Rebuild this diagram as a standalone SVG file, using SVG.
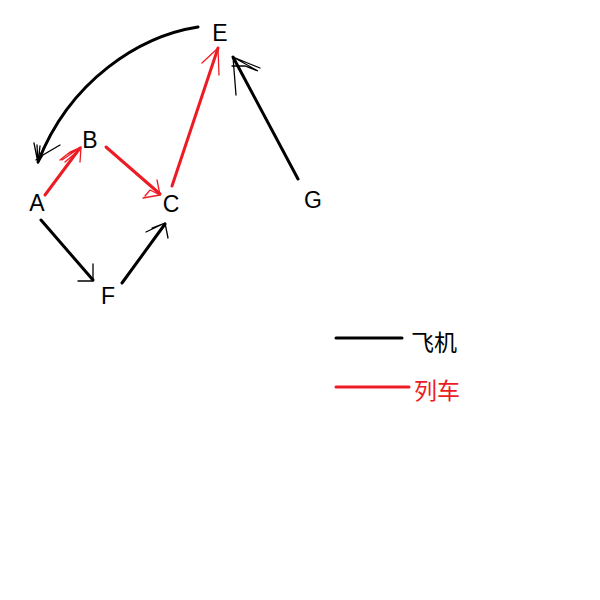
<svg xmlns="http://www.w3.org/2000/svg" width="600" height="600" viewBox="0 0 600 600">
<style>
.lbl{font-family:"Liberation Sans","Noto Sans",sans-serif;font-size:23px;fill:#000;text-anchor:middle}
.leg{font-family:"Noto Sans CJK SC","Liberation Sans",sans-serif;font-size:23px}
.k{stroke:#000;stroke-width:3;fill:none;stroke-linecap:round}
.r{stroke:#ed1c24;stroke-width:3;fill:none;stroke-linecap:round}
.kh{stroke:#000;stroke-width:1.3;fill:none;stroke-linecap:round}
.rh{stroke:#ed1c24;stroke-width:1.3;fill:none;stroke-linecap:round}
</style>
<rect width="600" height="600" fill="#fff"/>
<g id="connectors">
  <path class="k" d="M198,27 C140,36 70,80 38,162" stroke-width="3.5"/>
  <path class="kh" d="M38,163 L34,143 M38,163 L37,145 M38,163 L40,146 M38,163 L43,155 L60,145 M36,160 L40,153"/>
  <path class="r" d="M45,195 L80,148"/>
  <path class="rh" d="M81,147 L66,155 M81,147 L62,160 M81,147 L80,162 M81,147 L70,152 L60,160 M79,150 L65,162"/>
  <path class="r" d="M106,147 L160,194"/>
  <path class="rh" d="M160,195 L157,180 M160,195 L143,198 M160,195 L150,190 L145,196"/>
  <path class="r" d="M172,186 L218,48"/>
  <path class="rh" d="M218,48 L202,63 M218,48 L219,75"/>
  <path class="k" d="M298,179 L233,57"/>
  <path class="kh" d="M233,57 L236,95 M233,57 L258,71 L245,66 L232,66 M233,57 L250,64 L260,68"/>
  <path class="k" d="M41,220 L93,280"/>
  <path class="kh" d="M93,281 L93,264 M93,281 L78,281"/>
  <path class="k" d="M122,283 L165,224"/>
  <path class="kh" d="M165,223 L146,232 M165,223 L168,238 M165,223 L152,228"/>
</g>
<g id="node-E"><text class="lbl" x="220" y="41">E</text></g>
<g id="node-A"><text class="lbl" x="37" y="211">A</text></g>
<g id="node-B"><text class="lbl" x="90" y="148">B</text></g>
<g id="node-C"><text class="lbl" x="171" y="212">C</text></g>
<g id="node-F"><text class="lbl" x="108" y="304">F</text></g>
<g id="node-G"><text class="lbl" x="313" y="208">G</text></g>
<g id="legend">
  <line class="k" x1="336" y1="338" x2="402" y2="338" stroke-linecap="butt"/>
  <text class="leg" x="411" y="351" fill="#000">飞机</text>
  <line class="r" x1="336" y1="387" x2="409" y2="387" stroke-linecap="butt"/>
  <text class="leg" x="414" y="399" fill="#ed1c24">列车</text>
</g>
</svg>
